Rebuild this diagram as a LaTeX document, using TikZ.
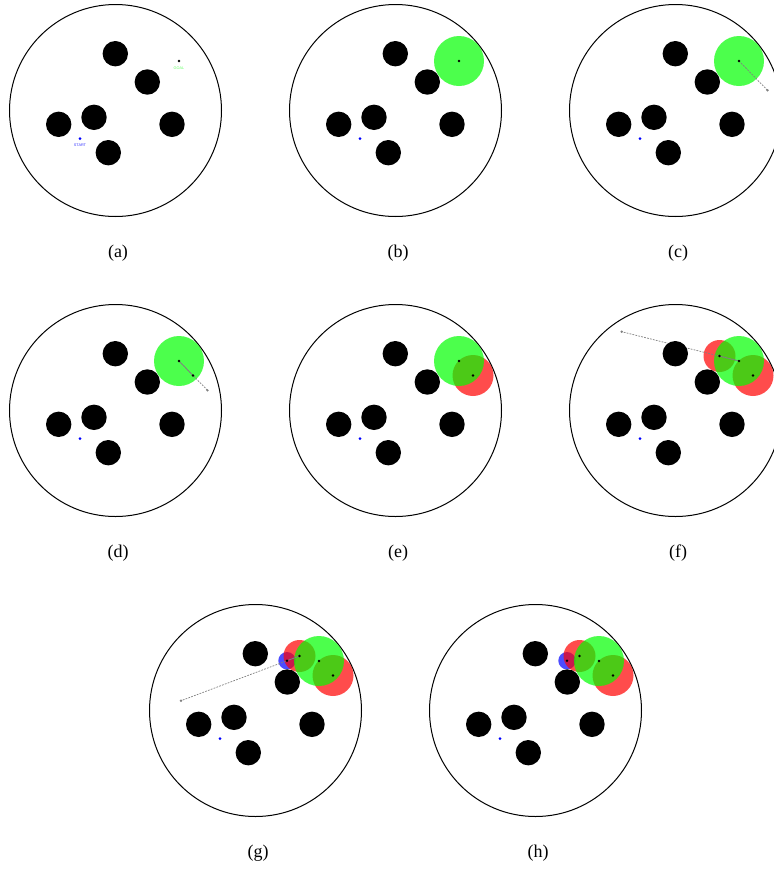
\documentclass[tikz,border=0pt]{standalone}
\usepackage{fontspec}
\setmainfont{Liberation Serif}
\setsansfont{Liberation Sans}
\begin{document}
\begin{tikzpicture}[x=1pt,y=-1pt,
  arena/.style={draw=black,line width=1pt},
  obstacle/.style={fill=black},
  startdot/.style={fill=blue},
  nodedot/.style={fill=black},
  sampledot/.style={fill=gray},
  greendisk/.style={fill=green,fill opacity=0.7},
  reddisk/.style={fill=red,fill opacity=0.7},
  bluedisk/.style={fill=blue,fill opacity=0.7},
  treeedge/.style={draw=gray,line width=0.7pt},
  sampleline/.style={draw=gray,line width=0.7pt,dash pattern=on 1.8pt off 1.2pt},
  caption/.style={font=\fontsize{18}{21}\selectfont,anchor=center},
  tinylabel/.style={font=\sffamily\fontsize{3.8}{4.5}\selectfont,inner sep=0pt}]
\useasboundingbox (0,0) rectangle (774,871);
\clip (0,0) rectangle (774,871);
\newcommand\arenabase{%
  \draw[arena] (115.5,110.5) circle (106pt);
  \coordinate (G) at (179,61);
  \coordinate (S) at (80,138.7);
  \coordinate (N1) at (193,75.5);
  \coordinate (P1) at (207.5,90.3);
  \coordinate (N2) at (159.5,56);
  \coordinate (P2) at (61.7,31.7);
  \coordinate (N3) at (147,60.7);
  \coordinate (P3) at (41,100.7);
}
\newcommand\obstacles{%
  \foreach \p in {(115.3,53.7),(147.3,82),(94,117.3),(58.7,124.3),(172,124.3),(108.3,152.7)}
    \fill[obstacle] \p circle (12.7pt);
  \fill[startdot] (S) circle (1.5pt);
}
% (a)
\begin{scope}[shift={(0,0)}]
  \arenabase
  \obstacles
  \fill[nodedot] (G) circle (1.4pt);
  \node[tinylabel,text=green!60!white] (goallabel) at (179,68.5) {GOAL};
  \node[tinylabel,text=blue!80!white] (startlabel) at (80,145.3) {START};
  \node[caption] (capa) at (118,253) {(a)};
\end{scope}
% (b)
\begin{scope}[shift={(280,0)}]
  \arenabase
  \fill[greendisk] (G) circle (25pt);
  \obstacles
  \fill[nodedot] (G) circle (1.4pt);
  \node[caption] (capb) at (118,253) {(b)};
\end{scope}
% (c)
\begin{scope}[shift={(560,0)}]
  \arenabase
  \fill[greendisk] (G) circle (25pt);
  \obstacles
  \draw[sampleline] (G) -- (P1);
  \fill[nodedot] (G) circle (1.4pt);
  \fill[sampledot] (P1) circle (1.3pt);
  \node[caption] (capc) at (118,253) {(c)};
\end{scope}
% (d)
\begin{scope}[shift={(0,300)}]
  \arenabase
  \fill[greendisk] (G) circle (25pt);
  \obstacles
  \draw[sampleline] (G) -- (P1);
  \draw[treeedge] (G) -- (N1);
  \fill[nodedot] (G) circle (1.4pt);
  \fill[nodedot] (N1) circle (1.4pt);
  \fill[sampledot] (P1) circle (1.3pt);
  \node[caption] (capd) at (118,253) {(d)};
\end{scope}
% (e)
\begin{scope}[shift={(280,300)}]
  \arenabase
  \fill[reddisk] (N1) circle (20.5pt);
  \fill[greendisk] (G) circle (25pt);
  \obstacles
  \fill[nodedot] (G) circle (1.4pt);
  \fill[nodedot] (N1) circle (1.4pt);
  \node[caption] (cape) at (118,253) {(e)};
\end{scope}
% (f)
\begin{scope}[shift={(560,300)}]
  \arenabase
  \fill[reddisk] (N1) circle (20.5pt);
  \fill[reddisk] (N2) circle (16pt);
  \fill[greendisk] (G) circle (25pt);
  \draw[sampleline] (G) -- (P2);
  \draw[treeedge] (G) -- (N2);
  \obstacles
  \fill[nodedot] (G) circle (1.4pt);
  \fill[nodedot] (N1) circle (1.4pt);
  \fill[nodedot] (N2) circle (1.4pt);
  \fill[sampledot] (P2) circle (1.3pt);
  \node[caption] (capf) at (118,253) {(f)};
\end{scope}
% (g)
\begin{scope}[shift={(140,600)}]
  \arenabase
  \fill[bluedisk] (N3) circle (8.7pt);
  \fill[reddisk] (N1) circle (20.5pt);
  \fill[reddisk] (N2) circle (16pt);
  \fill[greendisk] (G) circle (25pt);
  \draw[sampleline] (N2) -- (P3);
  \draw[treeedge] (N2) -- (N3);
  \obstacles
  \fill[nodedot] (G) circle (1.4pt);
  \fill[nodedot] (N1) circle (1.4pt);
  \fill[nodedot] (N2) circle (1.4pt);
  \fill[nodedot] (N3) circle (1.4pt);
  \fill[sampledot] (P3) circle (1.3pt);
  \node[caption] (capg) at (118,253) {(g)};
\end{scope}
% (h)
\begin{scope}[shift={(420,600)}]
  \arenabase
  \fill[bluedisk] (N3) circle (8.7pt);
  \fill[reddisk] (N1) circle (20.5pt);
  \fill[reddisk] (N2) circle (16pt);
  \fill[greendisk] (G) circle (25pt);
  \obstacles
  \fill[nodedot] (G) circle (1.4pt);
  \fill[nodedot] (N1) circle (1.4pt);
  \fill[nodedot] (N2) circle (1.4pt);
  \fill[nodedot] (N3) circle (1.4pt);
  \node[caption] (caph) at (118,253) {(h)};
\end{scope}
\end{tikzpicture}
\end{document}
